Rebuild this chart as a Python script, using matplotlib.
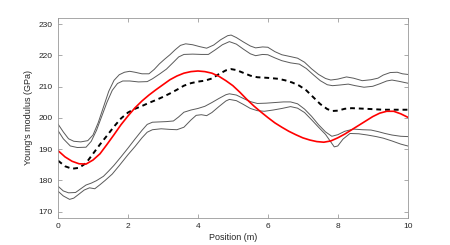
#!/usr/bin/env python3

import matplotlib.pyplot as plt

plt.rcParams['font.family'] = ['Liberation Sans', 'DejaVu Sans']

# values
upper1_x = [0, 0.15, 0.3, 0.45, 0.65, 0.85, 1.0, 1.15, 1.3, 1.45, 1.6, 1.75, 1.9, 2.05, 2.2, 2.4,
            2.6, 2.75, 2.9, 3.05, 3.2, 3.35, 3.5, 3.65, 3.85, 4.05, 4.25, 4.45, 4.65, 4.85, 4.95,
            5.1, 5.3, 5.5, 5.65, 5.85, 6.0, 6.2, 6.4, 6.65, 6.85, 7.05, 7.25, 7.45, 7.65, 7.8,
            8.0, 8.25, 8.45, 8.7, 8.95, 9.15, 9.3, 9.5, 9.7, 9.85, 10]
upper1_y = [198, 195.5, 193.3, 192.5, 192.3, 192.7, 194.5, 198.5, 203.5, 208.5, 212, 213.8, 214.6, 214.9, 214.6, 214.1,
            214.1, 215.5, 217.3, 218.8, 220.2, 221.8, 223.2, 223.7, 223.4, 222.8, 222.3, 223.3, 225, 226.3, 226.5,
            225.7, 224.3, 223, 222.4, 222.7, 222.6, 221.2, 220.2, 219.6, 219.1, 217.8, 215.7, 213.9, 212.6, 212.1,
            212.4, 213.1, 212.7, 211.9, 212.2, 212.7, 213.7, 214.5, 214.6, 214.1, 213.9]

upper2_x = [0, 0.15, 0.35, 0.55, 0.8, 0.95, 1.1, 1.25, 1.4, 1.55, 1.7, 1.85, 2.05, 2.3, 2.55, 2.7,
            2.9, 3.1, 3.3, 3.45, 3.6, 3.85, 4.1, 4.3, 4.5, 4.7, 4.9, 5.1, 5.3, 5.5, 5.65, 5.85,
            6.0, 6.2, 6.4, 6.65, 6.9, 7.1, 7.3, 7.5, 7.7, 7.85, 8.05, 8.3, 8.5, 8.75, 9.0, 9.2,
            9.4, 9.55, 9.75, 10]
upper2_y = [195.9, 193.3, 191, 190.5, 190.6, 192.5, 196, 200.5, 205, 208.8, 211, 211.8, 211.8, 211.5, 211.6, 212.5,
            214, 215.6, 217.8, 219.5, 220.3, 220.4, 220.3, 220.3, 221.8, 223.4, 224.4, 223.6, 222, 220.5, 219.9, 220.3,
            220.2, 219.2, 218.3, 217.6, 217.2, 215.8, 213.8, 211.9, 210.6, 210.3, 210.5, 210.8, 210.3, 209.8, 210.1, 210.9,
            211.8, 212.1, 211.7, 211.1]

mean_x = [0, 0.2, 0.4, 0.6, 0.8, 1.0, 1.2, 1.4, 1.6, 1.8, 2.0, 2.2, 2.4, 2.6, 2.8, 3.0, 3.2,
          3.4, 3.6, 3.8, 4.0, 4.2, 4.4, 4.6, 4.8, 4.95, 5.1, 5.3, 5.5, 5.7, 6.0, 6.3, 6.5,
          6.7, 6.9, 7.1, 7.3, 7.5, 7.7, 7.85, 8.0, 8.2, 8.4, 8.8, 9.3, 10]
mean_y = [186.3, 184.5, 183.7, 184, 185.5, 188.5, 191.5, 194.3, 197.2, 199.8, 201.7, 202.9, 203.8, 204.8, 205.7, 206.7, 207.8,
          209, 210.3, 211.1, 211.6, 211.9, 212.6, 214, 215.2, 215.6, 215.3, 214.4, 213.5, 213, 212.8, 212.5, 212,
          211.3, 210.3, 208.8, 206.6, 204.4, 202.8, 202.2, 202.3, 202.9, 203.1, 202.9, 202.6, 202.6]

model_x = [0, 0.2, 0.4, 0.6, 0.8, 1.0, 1.2, 1.4, 1.6, 1.8, 2.0, 2.2, 2.4, 2.6, 2.8, 3.0, 3.2,
           3.4, 3.6, 3.8, 4.0, 4.2, 4.4, 4.6, 4.8, 5.0, 5.2, 5.4, 5.6, 5.8, 6.0, 6.2, 6.4,
           6.6, 6.8, 7.0, 7.2, 7.4, 7.6, 7.8, 8.0, 8.2, 8.4, 8.6, 8.8, 9.0, 9.2, 9.4, 9.6,
           9.8, 10]
model_y = [189.5, 187.5, 186.1, 185.3, 185.2, 186.5, 188.5, 191.5, 194.6, 197.8, 200.6, 203.2, 205.4, 207.3, 209, 210.6, 212.2,
           213.4, 214.3, 214.8, 215, 214.8, 214.3, 213.3, 211.9, 210.3, 208.2, 205.9, 203.8, 201.9, 200.1, 198.4, 197,
           195.7, 194.6, 193.6, 192.9, 192.4, 192.2, 192.6, 193.6, 194.8, 196.2, 197.6, 199, 200.4, 201.5, 202.1, 202.1,
           201.3, 200.2]

lower1_x = [0, 0.15, 0.3, 0.5, 0.65, 0.8, 0.95, 1.1, 1.3, 1.45, 1.6, 1.8, 2.0, 2.2, 2.4, 2.55,
            2.7, 2.9, 3.1, 3.3, 3.45, 3.6, 3.8, 4.0, 4.2, 4.4, 4.6, 4.8, 4.9, 5.1, 5.3, 5.5,
            5.7, 5.95, 6.2, 6.45, 6.65, 6.85, 7.05, 7.25, 7.45, 7.65, 7.83, 8.0, 8.2, 8.45, 8.7,
            8.95, 9.15, 9.35, 9.55, 9.8, 10]
lower1_y = [178.1, 176.6, 176, 176.1, 177.3, 178.5, 179.1, 179.9, 181.3, 183, 184.8, 187.5, 190.3, 193.2, 196, 197.9,
            198.6, 198.7, 198.8, 199, 200.3, 201.8, 202.5, 203, 203.7, 204.9, 206.2, 207.4, 207.7, 207.3, 206.2, 205.2,
            204.6, 204.7, 204.9, 205.1, 205.1, 204.5, 202.8, 200.5, 197.8, 195.5, 194.1, 194.6, 195.7, 196.4, 196.2,
            196.1, 195.6, 195, 194.5, 194.1, 194]

lower2_x = [0, 0.15, 0.33, 0.45, 0.6, 0.75, 0.9, 1.05, 1.2, 1.35, 1.55, 1.75, 2.0, 2.2, 2.4, 2.55,
            2.7, 2.95, 3.2, 3.4, 3.6, 3.8, 3.95, 4.1, 4.25, 4.4, 4.6, 4.8, 4.9, 5.1, 5.3, 5.5,
            5.7, 5.9, 6.15, 6.4, 6.65, 6.85, 7.05, 7.25, 7.45, 7.65, 7.8, 7.9, 8.0, 8.15, 8.35,
            8.6, 8.85, 9.1, 9.3, 9.55, 9.8, 10]
lower2_y = [176.5, 175, 173.9, 174.3, 175.6, 176.9, 177.6, 177.3, 178.6, 180, 182, 184.7, 188.2, 190.8, 193.6, 195.4,
            196.2, 196.5, 196.3, 196.2, 197, 199.3, 200.8, 201, 200.7, 201.7, 203.6, 205.4, 205.9, 205.5, 204.3, 203,
            202.3, 202.1, 202.5, 203, 203.6, 203.1, 201.7, 199.4, 197, 194.7, 192.3, 190.7, 191, 193.2, 195,
            194.9, 194.5, 194, 193.5, 192.6, 191.6, 191]

x_ticks = [0, 2, 4, 6, 8, 10]
y_ticks = [170, 180, 190, 200, 210, 220, 230]


def main() -> None:
    fig = plt.figure(figsize=(4.5, 2.45), dpi=100)
    ax = fig.add_axes([0.129, 0.111, 0.777, 0.816])

    grey = '#5a5a5a'
    for xs, ys in [(upper1_x, upper1_y), (upper2_x, upper2_y),
                   (lower1_x, lower1_y), (lower2_x, lower2_y)]:
        ax.plot(xs, ys, color=grey, lw=0.7)
    ax.plot(mean_x, mean_y, color='black', lw=1.4, ls=(0, (2.5, 2)))
    ax.plot(model_x, model_y, color='red', lw=1.2)

    ax.set(xlim=(0, 10), ylim=(168, 232), xticks=x_ticks, yticks=y_ticks)
    ax.set_xlabel('Position (m)', fontsize=6.5, color='#262626', labelpad=2)
    ax.set_ylabel("Young's modulus (GPa)", fontsize=6.5, color='#262626', labelpad=4)
    ax.tick_params(direction='in', length=3, width=0.5, labelsize=6, colors='#262626',
                   top=True, right=True, color='#888888', pad=4)
    for sp in ax.spines.values():
        sp.set_color('#999999')
        sp.set_linewidth(0.6)

    fig.savefig('out.png', dpi=100)


if __name__ == '__main__':
    main()
